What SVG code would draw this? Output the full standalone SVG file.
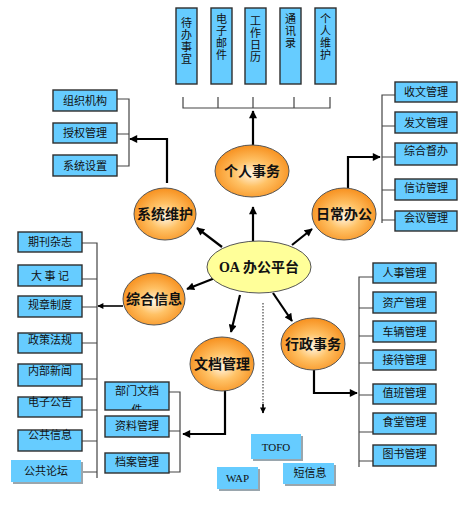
<svg xmlns="http://www.w3.org/2000/svg" width="465" height="509" viewBox="0 0 465 509">
<defs>
<radialGradient id="og" cx="50%" cy="55%" r="55%">
<stop offset="0" stop-color="#fff6e6"/>
<stop offset="0.45" stop-color="#ffc266"/>
<stop offset="1" stop-color="#f7901e"/>
</radialGradient>
<marker id="ah" viewBox="0 0 10 10" refX="9" refY="5" markerWidth="9" markerHeight="8" markerUnits="userSpaceOnUse" orient="auto">
<path d="M0,0 L10,5 L0,10 z" fill="#000"/>
</marker>
<marker id="ahs" viewBox="0 0 10 10" refX="9" refY="5" markerWidth="7" markerHeight="6" markerUnits="userSpaceOnUse" orient="auto">
<path d="M0,0 L10,5 L0,10 z" fill="#000"/>
</marker>
<clipPath id="clipBm"><rect x="105" y="382" width="64" height="28"/></clipPath>
</defs>
<style>
.box{fill:#66ccff;stroke:#2e2e2e;stroke-width:1.4}
.soft{fill:#66ccff}
.shd{fill:#9aa6ad}
.t{font-family:"Noto Sans CJK SC","Noto Sans",sans-serif;font-size:11px;fill:#111;text-anchor:middle}
.v{font-family:"Noto Sans CJK SC","Noto Sans",sans-serif;font-size:11px;fill:#111;writing-mode:vertical-rl;letter-spacing:1px}
.et{font-family:"Noto Sans CJK SC","Noto Sans",sans-serif;font-size:14px;font-weight:bold;fill:#111;text-anchor:middle}
.ell{fill:url(#og);stroke:#555;stroke-width:1}
.br{fill:none;stroke:#444;stroke-width:1.2}
.ar{fill:none;stroke:#000;stroke-width:2.2;marker-end:url(#ah)}
.ars{fill:none;stroke:#000;stroke-width:1.6;marker-end:url(#ahs)}
.dot{fill:none;stroke:#555;stroke-width:1.3;stroke-dasharray:1.5 1.5}
.ser{font-family:"Liberation Serif","Noto Sans CJK SC",serif;font-size:11px;fill:#111;text-anchor:middle}
</style>
<rect width="465" height="509" fill="#fff"/>

<g id="connectors">
<path class="br" d="M183,97 V108 H330 V97 M218,97 V108 M253,97 V108 M294,97 V108"/>
<path class="br" d="M117,99 H129 V166 H117 M117,134 H129"/>
<path class="br" d="M395,95 H382 V223 M382,126 H395 M382,157 H395 M382,190 H395 M382,220 H395"/>
<path class="br" d="M82,243 H97 V478 M82,279 H97 M82,307 H97 M82,343 H97 M82,379 H97 M82,410 H97 M82,441 H97 M82,472 H97"/>
<path class="br" d="M373,277 H359 V467 M359,308 H373 M359,336 H373 M359,363 H373 M359,395 H373 M359,432 H373 M359,461 H373"/>
<path class="br" d="M169,392 H180 V472 H169 M169,431 H180"/>
<path class="ar" d="M253,241 V207"/>
<path class="ar" d="M222,247 L197,228"/>
<path class="ar" d="M292,245 L312,229"/>
<path class="ar" d="M215,278 L187,289"/>
<path class="ar" d="M240,295 L231,332"/>
<path class="ar" d="M273,293 L292,321"/>
<path class="dot" d="M263,303 V408"/>
<path class="ars" d="M263,404 V413"/>
<path class="ar" d="M253,145 V111"/>
<path class="ar" d="M167,183 V139 H130"/>
<path class="ar" d="M348,188 V157 H380"/>
<path class="ars" d="M123,306 H98"/>
<path class="ar" d="M225,390 V434 H183"/>
<path class="ar" d="M314,370 V393 H357"/>
</g>

<g id="n-top1"><rect class="box" x="176" y="8" width="21" height="76"/><text class="v" x="186.5" y="17">待办事宜</text></g>
<g id="n-top2"><rect class="box" x="211" y="8" width="21" height="76"/><text class="v" x="221.5" y="13">电子邮件</text></g>
<g id="n-top3"><rect class="box" x="245" y="8" width="21" height="76"/><text class="v" x="255.5" y="15">工作日历</text></g>
<g id="n-top4"><rect class="box" x="280" y="8" width="21" height="76"/><text class="v" x="290.5" y="13">通讯录</text></g>
<g id="n-top5"><rect class="box" x="315" y="8" width="21" height="76"/><text class="v" x="325.5" y="13">个人维护</text></g>

<g id="n-zzjg"><rect class="box" x="53" y="90" width="64" height="21"/><text class="t" x="85" y="104.5">组织机构</text></g>
<g id="n-sqgl"><rect class="box" x="53" y="123" width="64" height="20"/><text class="t" x="85" y="137">授权管理</text></g>
<g id="n-xtsz"><rect class="box" x="53" y="155" width="64" height="21"/><text class="t" x="85" y="169.5">系统设置</text></g>

<g id="n-swgl"><rect class="box" x="395" y="82" width="62" height="20"/><text class="t" x="426" y="96">收文管理</text></g>
<g id="n-fwgl"><rect class="box" x="395" y="112" width="62" height="21"/><text class="t" x="426" y="126.5">发文管理</text></g>
<g id="n-zhdb"><rect class="box" x="395" y="143" width="62" height="22"/><text class="t" x="426" y="155">综合督办</text></g>
<g id="n-xfgl"><rect class="box" x="395" y="179" width="62" height="21"/><text class="t" x="426" y="192">信访管理</text></g>
<g id="n-hygl"><rect class="box" x="395" y="211" width="62" height="20"/><text class="t" x="426" y="222">会议管理</text></g>

<g id="n-qkzz"><rect class="box" x="18" y="232" width="64" height="20"/><text class="t" x="50" y="246">期刊杂志</text></g>
<g id="n-dsj"><rect class="box" x="18" y="265" width="64" height="21"/><text class="t" x="50" y="279.5">大 事 记</text></g>
<g id="n-gzzd"><rect class="box" x="18" y="296" width="64" height="21"/><text class="t" x="50" y="309">规章制度</text></g>
<g id="n-zcfg"><rect class="box" x="18" y="333" width="64" height="20"/><text class="t" x="50" y="344">政策法规</text></g>
<g id="n-nbxw"><rect class="box" x="18" y="364" width="64" height="22"/><text class="t" x="50" y="375">内部新闻</text></g>
<g id="n-dzgg"><rect class="box" x="18" y="397" width="64" height="20"/><text class="t" x="50" y="406">电子公告</text></g>
<g id="n-ggxx"><rect class="box" x="18" y="430" width="64" height="21"/><text class="t" x="50" y="439">公共信息</text></g>
<g id="n-ggln"><rect class="shd" x="13" y="462" width="70" height="22"/><rect class="soft" x="11" y="460" width="70" height="22"/><text class="t" x="46" y="475">公共论坛</text></g>

<g id="n-rsgl"><rect class="box" x="373" y="263" width="63" height="20"/><text class="t" x="404.5" y="277">人事管理</text></g>
<g id="n-zcgl"><rect class="box" x="373" y="292" width="63" height="21"/><text class="t" x="404.5" y="306.5">资产管理</text></g>
<g id="n-clgl"><rect class="box" x="373" y="321" width="63" height="21"/><text class="t" x="404.5" y="335.5">车辆管理</text></g>
<g id="n-jdgl"><rect class="box" x="373" y="350" width="63" height="20"/><text class="t" x="404.5" y="364">接待管理</text></g>
<g id="n-zbgl"><rect class="box" x="373" y="384" width="63" height="20"/><text class="t" x="404.5" y="397">值班管理</text></g>
<g id="n-stgl"><rect class="box" x="373" y="413" width="63" height="21"/><text class="t" x="404.5" y="426">食堂管理</text></g>
<g id="n-tsgl"><rect class="box" x="373" y="445" width="63" height="21"/><text class="t" x="404.5" y="458">图书管理</text></g>

<g id="n-bmwdj"><rect class="box" x="105" y="382" width="64" height="28"/><text class="t" clip-path="url(#clipBm)"><tspan x="137" y="395">部门文档</tspan><tspan x="137" y="414">件</tspan></text></g>
<g id="n-zlgl"><rect class="box" x="105" y="416" width="64" height="21"/><text class="t" x="137" y="430">资料管理</text></g>
<g id="n-dagl"><rect class="box" x="105" y="453" width="64" height="20"/><text class="t" x="137" y="466">档案管理</text></g>

<g id="n-tofo"><rect class="shd" x="253" y="436" width="50" height="25"/><rect class="soft" x="251" y="434" width="50" height="25"/><text class="ser" x="276" y="451">TOFO</text></g>
<g id="n-wap"><rect class="shd" x="219" y="469" width="41" height="22"/><rect class="soft" x="217" y="467" width="41" height="22"/><text class="ser" x="237.5" y="482">WAP</text></g>
<g id="n-dxx"><rect class="shd" x="285" y="465" width="51" height="21"/><rect class="soft" x="283" y="463" width="51" height="21"/><text class="t" x="310" y="477">短信息</text></g>

<g id="n-oa"><ellipse cx="259" cy="267" rx="52" ry="26" fill="#ffff99" stroke="#555" stroke-width="1"/><text class="et" x="259" y="272"><tspan font-family="Liberation Serif,serif">OA</tspan> 办公平台</text></g>
<g id="n-grsw"><ellipse class="ell" cx="252" cy="171" rx="37" ry="26"/><text class="et" x="252" y="176">个人事务</text></g>
<g id="n-xtwh"><ellipse class="ell" cx="165" cy="214" rx="31" ry="26"/><text class="et" x="165" y="219">系统维护</text></g>
<g id="n-rcbg"><ellipse class="ell" cx="344" cy="214" rx="32" ry="26"/><text class="et" x="344" y="219">日常办公</text></g>
<g id="n-zhxx"><ellipse class="ell" cx="154" cy="299" rx="31" ry="26"/><text class="et" x="154" y="304">综合信息</text></g>
<g id="n-wdgl"><ellipse class="ell" cx="222" cy="364" rx="32" ry="27"/><text class="et" x="222" y="369">文档管理</text></g>
<g id="n-xzsw"><ellipse class="ell" cx="313" cy="344" rx="32" ry="26"/><text class="et" x="313" y="349">行政事务</text></g>
</svg>
